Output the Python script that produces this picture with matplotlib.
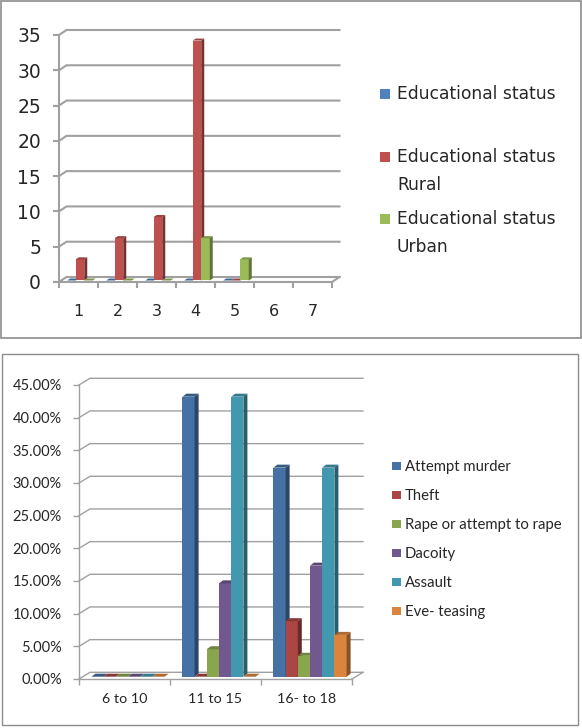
import matplotlib.pyplot as plt
from matplotlib.patches import Polygon, Rectangle
from matplotlib.colors import to_rgb
import numpy as np

W, H = 582, 728

# ---- top chart ----
edu_cats = ['1', '2', '3', '4', '5', '6', '7']
edu_yticks = [0, 5, 10, 15, 20, 25, 30, 35]
edu_labels = ['Educational status', 'Educational status\nRural', 'Educational status\nUrban']
edu_status = [0, 0, 0, 0, 0, np.nan, np.nan]
edu_rural = [3, 6, 9, 34, 0, np.nan, np.nan]
edu_urban = [0, 0, 0, 6, 3, np.nan, np.nan]
edu_colors = ['#4f81bd', '#c0504d', '#9bbb59']

# ---- bottom chart ----
age_cats = ['6 to 10', '11 to 15', '16- to 18']
age_yticks = [0, 5, 10, 15, 20, 25, 30, 35, 40, 45]
crime_labels = ['Attempt murder', 'Theft', 'Rape or attempt to rape', 'Dacoity', 'Assault', 'Eve- teasing']
attempt_murder = [0, 42.86, 32]
theft = [0, 0, 8.5]
rape = [0, 4.2, 3.2]
dacoity = [0, 14.29, 17]
assault = [0, 42.86, 32]
eve_teasing = [0, 0, 6.4]
crime_colors = ['#4571a4', '#aa4643', '#89a54e', '#71588f', '#4198af', '#db843d']

GRAY = '#a0a0a0'
TXT = '#262626'


def make_axes(fig, left, right, top, bottom):
    return fig.add_axes([left / W, 1 - bottom / H, (right - left) / W, (bottom - top) / H])


def shade(color, f):
    return tuple(c * f for c in to_rgb(color))


def chart(ax, cats, series, colors, yticks, box, wall, bar_w, bar_depth, base, xshift=0.0, lw=1.0):
    # box = front plane size in px, everything 3D-ish is offset in px then scaled to data units
    n = len(cats)
    ymax = yticks[-1]
    ax.set_xlim(0.5, n + 0.5)
    ax.set_ylim(0, ymax)
    px_x = n / box[0]
    px_y = ymax / box[1]
    wx, wy = wall[0] * px_x, wall[1] * px_y

    ax.patch.set_visible(False)
    for s in ['top', 'right']:
        ax.spines[s].set_visible(False)
    for s in ['left', 'bottom']:
        ax.spines[s].set_color(GRAY)
        ax.spines[s].set_linewidth(lw)
    ax.set_yticks(yticks)
    ax.set_xticks(np.arange(0.5, n + 1))
    ax.set_xticklabels([])
    ax.set_xticks(np.arange(1, n + 1), labels=cats, minor=True)
    ax.tick_params(axis='both', which='major', color=GRAY, width=lw, length=4)
    ax.tick_params(axis='x', which='minor', length=0, colors=TXT)
    ax.tick_params(axis='y', colors=TXT)
    ax.tick_params(axis='both', which='major', color=GRAY)

    # wall grid and the slanted joins
    for t in yticks:
        ax.plot([0.5, 0.5 + wx, n + 0.5 + wx], [t, t + wy, t + wy], color=GRAY, lw=lw,
                clip_on=False, zorder=1, solid_joinstyle='miter')
    ax.plot([n + 0.5, n + 0.5 + wx], [0, wy], color=GRAY, lw=lw, clip_on=False, zorder=1)

    k = len(series)
    w = bar_w * px_x
    dx, dy = bar_depth[0] * px_x, bar_depth[1] * px_y
    bx, by = base[0] * px_x, base[1] * px_y
    for j, vals in enumerate(series):
        col = colors[j]
        xs = np.arange(1, n + 1) + (j - k / 2) * w + xshift * px_x
        for x, v in zip(xs, vals):
            if np.isnan(v):
                continue
            x0, x1 = x + bx, x + bx + w
            y0, y1 = by, by + v
            ax.bar(x0, v, width=w, bottom=y0, align='edge', color=col, lw=0, zorder=3, clip_on=False)
            ax.add_patch(Polygon([(x1, y0), (x1 + dx, y0 + dy), (x1 + dx, y1 + dy), (x1, y1)],
                                 fc=shade(col, 0.62), lw=0, zorder=3, clip_on=False))
            ax.add_patch(Polygon([(x0, y1), (x0 + dx, y1 + dy), (x1 + dx, y1 + dy), (x1, y1)],
                                 fc=shade(col, 0.8), lw=0, zorder=3, clip_on=False))


def legend(fig, labels, colors, ys, x_sq, x_txt, sq, rise, **kw):
    for lab, c, y in zip(labels, colors, ys):
        fig.add_artist(Rectangle((x_sq / W, 1 - (y + sq / 2) / H), sq / W, sq / H,
                                 transform=fig.transFigure, fc=c, lw=0))
        fig.text(x_txt / W, 1 - (y - rise) / H, lab, va='top', ha='left', color=TXT, **kw)


fig = plt.figure(figsize=(W / 100, H / 100), dpi=100)

# chart frames
fig.add_artist(Rectangle((1 / W, 1 - 338 / H), 580 / W, 337 / H, transform=fig.transFigure,
                         fc='none', ec='#8c8c8c', lw=1.2))
fig.add_artist(Rectangle((2 / W, 1 - 725 / H), 576 / W, 371 / H, transform=fig.transFigure,
                         fc='none', ec='#8c8c8c', lw=1.0))

ax1 = make_axes(fig, 59, 332, 35, 282)
chart(ax1, edu_cats, [edu_status, edu_rural, edu_urban], edu_colors, edu_yticks,
      (273, 247), (7.5, 5), 8.5, (3, 2), (2, 1.5), xshift=-0.5, lw=1.5)
ax1.tick_params(axis='y', labelsize=13.5, pad=9)
ax1.tick_params(axis='x', which='minor', labelsize=11.5, pad=16)
for lab in ax1.get_yticklabels() + ax1.get_xticklabels(minor=True):
    lab.set_family('DejaVu Sans')
legend(fig, edu_labels, edu_colors, [94, 157, 219], 380, 397, 10, 9, fontsize=12.3, family='DejaVu Sans',
       linespacing=1.7)

ax2 = make_axes(fig, 79, 352, 385, 679)
chart(ax2, age_cats, [attempt_murder, theft, rape, dacoity, assault, eve_teasing], crime_colors,
      age_yticks, (273, 294), (11, 6.7), 12.2, (4, 3), (3.5, 2.3), lw=1.0)
ax2.set_yticks(age_yticks, labels=['%.2f%%' % t for t in age_yticks])
ax2.tick_params(axis='y', labelsize=10.5, pad=8.5)
ax2.tick_params(axis='x', which='minor', labelsize=10.3, pad=10)
for lab in ax2.get_yticklabels() + ax2.get_xticklabels(minor=True):
    lab.set_family('Lato')
legend(fig, crime_labels, crime_colors, [466, 495, 524, 553, 582, 611], 392, 405, 8.5, 6,
       fontsize=10.7, family='Lato')

fig.savefig('out.png', dpi=100)
